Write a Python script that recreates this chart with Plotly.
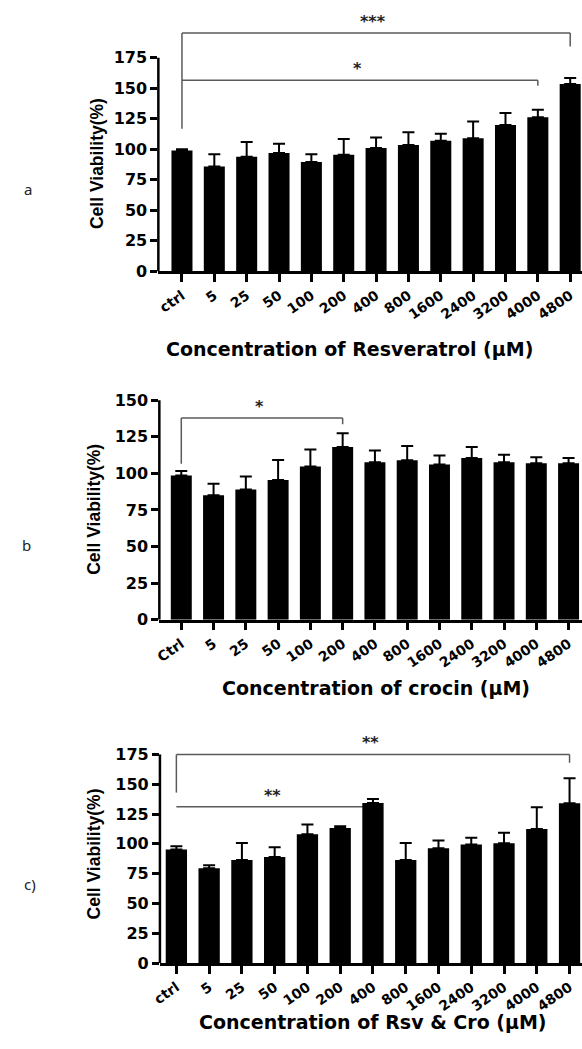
import plotly.graph_objects as go

# ---------------- data ----------------
cats_a = ["ctrl", "5", "25", "50", "100", "200", "400", "800", "1600", "2400", "3200", "4000", "4800"]
cats_b = ["Ctrl", "5", "25", "50", "100", "200", "400", "800", "1600", "2400", "3200", "4000", "4800"]
cats_c = ["ctrl", "5", "25", "50", "100", "200", "400", "800", "1600", "2400", "3200", "4000", "4800"]

vals_a = [99, 86, 94, 97, 89.5, 95.5, 101, 103.5, 107, 109, 120, 126.3, 153.4]
err_a = [1, 10, 12, 7.5, 6.5, 13, 8.6, 10.5, 5.7, 13.8, 9.8, 6.2, 5.1]

vals_b = [98.6, 85, 89, 95.4, 104.7, 118, 107.6, 109, 106, 110.5, 107.6, 106.9, 106.9]
err_b = [3, 8, 8.8, 13.8, 11.7, 9.4, 8.1, 9.7, 6.3, 7.5, 5.2, 4.1, 3.6]

vals_c = [95.3, 79.5, 86.4, 88.9, 108, 113.3, 134.3, 86.4, 96.4, 99.4, 100.5, 112.4, 134]
err_c = [2.7, 2.5, 14.4, 8.3, 8.3, 1.4, 3.3, 14.4, 6.4, 5.8, 8.9, 18.3, 21]

# significance brackets: (from, to, level, left drop, right drop, label)
sig_a = [("ctrl", "4800", 195.2, 116.8, 184.3, "***"),
         ("ctrl", "4000", 156.5, 156.5, 152.0, "*")]
sig_b = [("Ctrl", "200", 137.8, 106.5, 133.6, "*")]
sig_c = [("ctrl", "4800", 175.0, 143.0, 168.0, "**"),
         ("ctrl", "400", 131.2, 131.2, 131.2, "**")]

x_titles = ["Concentration of Resveratrol (\u03bcM)",
            "Concentration of crocin (\u03bcM)",
            "Concentration of Rsv & Cro (\u03bcM)"]
panel_labels = ["a", "b", "c)"]
y_title = "Cell Viability(%)"
tick_a = [0, 25, 50, 75, 100, 125, 150, 175]
tick_b = [0, 25, 50, 75, 100, 125, 150]
tick_c = [0, 25, 50, 75, 100, 125, 150, 175]

# ---------------- layout geometry ----------------
W, H = 582, 1049
FONT = "DejaVu Sans"

panels = [
    dict(cats=cats_a, vals=vals_a, err=err_a, sig=sig_a, ticks=tick_a,
         xdom=(151.7, 582), xr=(-0.73, 12.365), ydom=(274, 0), yr=(0, 222.3),
         xt=(346, 352), yt=(90, 165), lab=(19, 191)),
    dict(cats=cats_b, vals=vals_b, err=err_b, sig=sig_b, ticks=tick_b,
         xdom=(152.7, 582), xr=(-0.68, 12.416), ydom=(625.7, 385), yr=(0, 162.9),
         xt=(373, 695), yt=(86, 514), lab=(18, 550)),
    dict(cats=cats_c, vals=vals_c, err=err_c, sig=sig_c, ticks=tick_c,
         xdom=(153.3, 582), xr=(-0.502, 12.38), ydom=(972.3, 735), yr=(0, 197.2),
         xt=(370, 1031.5), yt=(86, 862), lab=(21, 893)),
]

fig = go.Figure()
shapes = []
annotations = []
layout = {}

for i, p in enumerate(panels):
    n = "" if i == 0 else str(i + 1)
    xa, ya = "x" + n, "y" + n
    fig.add_trace(go.Bar(
        x=p["cats"], y=p["vals"], xaxis=xa, yaxis=ya,
        marker=dict(color="black", line=dict(width=0)),
        error_y=dict(type="data", symmetric=False, array=p["err"],
                     arrayminus=[0] * len(p["err"]),
                     color="black", thickness=2, width=6),
        showlegend=False, hoverinfo="x+y",
    ))
    layout["xaxis" + n] = dict(
        type="category", domain=[p["xdom"][0] / W, p["xdom"][1] / W],
        range=list(p["xr"]), anchor=ya,
        showline=True, linecolor="black", linewidth=2.5,
        ticks="outside", ticklen=8, tickwidth=2.5, tickcolor="black",
        tickangle=-35, showgrid=False, zeroline=False,
        tickfont=dict(family=FONT, size=14, color="black", weight="bold"),
    )
    layout["yaxis" + n] = dict(
        domain=[1 - p["ydom"][0] / H, 1 - p["ydom"][1] / H],
        range=list(p["yr"]), anchor=xa,
        showline=False, tickvals=p["ticks"],
        ticks="outside", ticklen=7, tickwidth=2.5, tickcolor="black",
        showgrid=False, zeroline=False,
        tickfont=dict(family=FONT, size=16, color="black", weight="bold"),
    )
    # y-axis line (only up to the last tick)
    shapes.append(dict(type="line", xref=xa + " domain", yref=ya,
                       x0=0, x1=0, y0=0, y1=p["ticks"][-1],
                       line=dict(color="black", width=2.5)))
    # significance brackets
    for (a, b, lvl, dl, dr, txt) in p["sig"]:
        ia, ib = p["cats"].index(a), p["cats"].index(b)
        for seg in [(ia, dl, ia, lvl), (ia, lvl, ib, lvl), (ib, lvl, ib, dr)]:
            shapes.append(dict(type="line", xref=xa, yref=ya, layer="below",
                               x0=seg[0], y0=seg[1], x1=seg[2], y1=seg[3],
                               line=dict(color="#5a5a5a", width=1.5)))
        annotations.append(dict(x=(ia + ib) / 2 - 0.08, y=lvl, xref=xa, yref=ya,
                                text=txt, showarrow=False, yanchor="bottom",
                                font=dict(family=FONT, size=16, color="#222222",
                                          weight="bold")))
    # x title
    annotations.append(dict(x=p["xt"][0] / W, y=1 - p["xt"][1] / H,
                            xref="paper", yref="paper", text=x_titles[i],
                            showarrow=False, xanchor="center", yanchor="middle",
                            font=dict(family=FONT, size=19, color="black",
                                      weight="bold")))
    # y title
    annotations.append(dict(x=p["yt"][0] / W, y=1 - p["yt"][1] / H,
                            xref="paper", yref="paper", text=y_title,
                            textangle=-90, showarrow=False,
                            xanchor="center", yanchor="middle",
                            font=dict(family="Liberation Sans", size=17.5,
                                      color="black", weight="bold")))
    # panel label
    annotations.append(dict(x=p["lab"][0] / W, y=1 - p["lab"][1] / H,
                            xref="paper", yref="paper", text=panel_labels[i],
                            showarrow=False, xanchor="center", yanchor="middle",
                            font=dict(family="Noto Sans", size=15,
                                      color="#222222")))

fig.update_layout(
    width=W, height=H,
    margin=dict(l=0, r=0, t=0, b=0),
    paper_bgcolor="white", plot_bgcolor="white",
    bargap=0.35, showlegend=False,
    shapes=shapes, annotations=annotations,
    **layout,
)

fig.write_html("out.html", config={"displayModeBar": False},
               post_script="document.body.style.margin='0';"
                           "document.body.style.overflow='hidden';")
